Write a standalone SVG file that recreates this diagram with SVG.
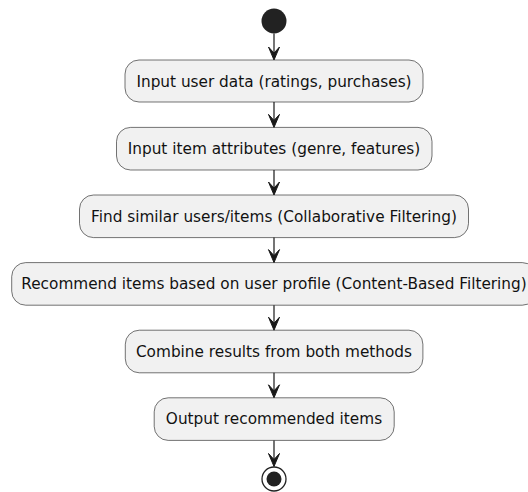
<svg xmlns="http://www.w3.org/2000/svg" width="528" height="492" viewBox="0 0 528 492">
<defs>
<style>
.box{fill:#F1F1F1;stroke:#181818;stroke-width:0.6}
.lbl{font-family:"DejaVu Sans",sans-serif;font-size:15.3px;fill:#111;text-anchor:middle}
.ln{stroke:#181818;stroke-width:1.2;fill:none}
.ah{fill:#181818;stroke:#181818;stroke-width:1}
</style>
</defs>
<rect width="528" height="492" fill="#FFFFFF"/>
<g id="start"><circle cx="274" cy="21" r="12.5" fill="#222222"/></g>
<g id="n1"><rect class="box" x="125" y="60" width="298" height="42" rx="14"/><text class="lbl" x="274" y="86.5">Input user data (ratings, purchases)</text></g>
<g id="n2"><rect class="box" x="116.5" y="127.4" width="315.5" height="42.6" rx="14"/><text class="lbl" x="274" y="154">Input item attributes (genre, features)</text></g>
<g id="n3"><rect class="box" x="79.5" y="195" width="389" height="42.6" rx="14"/><text class="lbl" x="274" y="221.6">Find similar users/items (Collaborative Filtering)</text></g>
<g id="n4"><rect class="box" x="11.7" y="262.6" width="524.6" height="42.6" rx="14"/><text class="lbl" x="274" y="289.2">Recommend items based on user profile (Content-Based Filtering)</text></g>
<g id="n5"><rect class="box" x="125.3" y="330.2" width="297.6" height="42.6" rx="14"/><text class="lbl" x="274" y="356.8">Combine results from both methods</text></g>
<g id="n6"><rect class="box" x="154.2" y="397.8" width="240" height="42.6" rx="14"/><text class="lbl" x="274" y="424.4">Output recommended items</text></g>
<g id="end"><circle cx="274" cy="479" r="12" fill="#FFFFFF" stroke="#222222" stroke-width="1.3"/><circle cx="274" cy="479" r="7.5" fill="#222222"/></g>
<g id="connectors">
<line class="ln" x1="274" y1="33.5" x2="274" y2="55"/>
<polygon class="ah" points="268.5,47 274,60 279.5,47 274,53"/>
<line class="ln" x1="274" y1="102" x2="274" y2="122"/>
<polygon class="ah" points="268.5,114.4 274,127.4 279.5,114.4 274,120.4"/>
<line class="ln" x1="274" y1="170" x2="274" y2="190"/>
<polygon class="ah" points="268.5,182 274,195 279.5,182 274,188"/>
<line class="ln" x1="274" y1="237.6" x2="274" y2="257"/>
<polygon class="ah" points="268.5,249.6 274,262.6 279.5,249.6 274,255.6"/>
<line class="ln" x1="274" y1="305.2" x2="274" y2="325"/>
<polygon class="ah" points="268.5,317.2 274,330.2 279.5,317.2 274,323.2"/>
<line class="ln" x1="274" y1="372.8" x2="274" y2="392"/>
<polygon class="ah" points="268.5,384.8 274,397.8 279.5,384.8 274,390.8"/>
<line class="ln" x1="274" y1="440.4" x2="274" y2="461"/>
<polygon class="ah" points="268.5,453.5 274,466.5 279.5,453.5 274,459.5"/>
</g>
</svg>
